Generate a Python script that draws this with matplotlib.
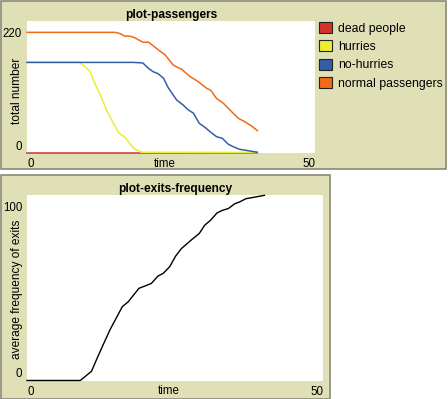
import matplotlib
matplotlib.use("Agg")
import matplotlib.pyplot as plt
from matplotlib.patches import Rectangle, Patch

# ---- data (time, value) ----
dead_t = [0, 40]
dead_v = [0, 0]

hurries_t = [0, 9.2, 10.9, 12.1, 13.0, 13.8, 15.0, 16.0, 17.0, 17.9, 18.75, 19.9, 40]
hurries_v = [165, 165, 149, 119, 99, 78, 53.5, 35, 28, 15.6, 5.9, 0.4, 0]

nohurries_t = [0, 18.5, 20.1, 21.1, 21.9, 22.8, 23.7, 24.5, 25.4, 26.0, 27.1, 28.0,
               28.9, 29.9, 30.9, 31.8, 32.9, 33.9, 34.9, 35.8, 36.9, 38.4, 40.0]
nohurries_v = [165, 165, 164, 154, 148, 144, 136, 119, 105, 96, 87, 78,
               72, 53.5, 46, 38, 29, 26, 15.6, 10.6, 5.9, 3.3, 0.4]

normal_t = [0, 15.3, 16.1, 17.0, 17.9, 18.75, 20.1, 21.1, 22.8, 24.0, 25.4, 26.9,
            28.3, 29.7, 31.2, 31.9, 32.9, 34.1, 35.5, 36.7, 37.8, 39.0, 40.0]
normal_v = [220, 220, 218, 213, 213, 210, 202, 202, 188, 178.5, 160, 152,
            139, 130, 117.5, 114, 99, 90, 75, 62.6, 56.4, 48.5, 40]

series_names = ["dead people", "hurries", "no-hurries", "normal passengers"]
series_colors = ["#d7322a", "#eded31", "#345da9", "#f16a15"]

exits_t = [0, 9.0, 10.9, 12.0, 14.0, 16.1, 17.1, 18.9, 21.0, 22.1, 23.0, 24.1, 25.1,
           26.1, 27.9, 29.1, 30.0, 31.0, 32.1, 33.0, 34.0, 35.1, 35.9, 37.0, 38.5, 40.1]
exits_v = [0, 0, 5.3, 14, 29, 42.4, 45.2, 52.9, 55.7, 59.9, 61.5, 65.3, 71.4,
           75.8, 81.1, 84.4, 89.1, 92, 96.2, 97.7, 98.7, 101.5, 102.5, 104.4, 105.3, 106.3]

BG = "#e0e0b6"
W, H = 448, 399
FS = 8.3

plt.rcParams["font.family"] = ["Liberation Sans", "DejaVu Sans"]
fig = plt.figure(figsize=(W / 100, H / 100), dpi=100, facecolor="white")


def px_rect(x0, y0, x1, y1):
    # widget background, pixel coords from the top-left
    fig.add_artist(Rectangle((x0 / W, 1 - y1 / H), (x1 - x0) / W, (y1 - y0) / H,
                             transform=fig.transFigure, facecolor=BG,
                             edgecolor="#8a8a78", lw=1.2, zorder=0))


def px_axes(x0, y0, x1, y1):
    return fig.add_axes([x0 / W, 1 - y1 / H, (x1 - x0) / W, (y1 - y0) / H])


def style(ax, title, ylabel, ylim, yticks, lx, ly):
    ax.set_facecolor("white")
    for s in ax.spines.values():
        s.set_visible(False)
    ax.set_xlim(0, 50)
    ax.set_ylim(*ylim)
    ax.set_xticks([0, 50], ["0", "50"])
    ax.set_yticks(yticks, [str(v) for v in yticks])
    ax.tick_params(length=0, labelsize=FS, pad=3.5)
    xl = ax.get_xticklabels()
    xl[0].set_ha("left")
    xl[1].set_ha("right")
    ax.get_yticklabels()[0].set_va("bottom")
    ax.set_title(title, fontsize=8.6, fontweight="bold", pad=2)
    ax.set_xlabel("time", fontsize=FS)
    ax.xaxis.set_label_coords(lx, ly)
    ax.set_ylabel(ylabel, fontsize=FS + 0.3)


# panels
px_rect(0.5, 0.5, 446, 169)
px_rect(0.5, 174.5, 330, 398.5)

# top plot
ax1 = px_axes(27, 21, 315, 153)
for t, v, c in zip([dead_t, hurries_t, nohurries_t, normal_t],
                   [dead_v, hurries_v, nohurries_v, normal_v], series_colors):
    ax1.plot(t, v, color=c, lw=1.1, clip_on=False)
style(ax1, "plot-passengers", "total number", (-0.9, 240.8), [0, 220], 0.479, -0.035)
ax1.yaxis.set_label_coords(-0.014, 0.47)

handles = [Patch(facecolor=c, edgecolor="#222222", lw=0.8) for c in series_colors]
fig.legend(handles, series_names, loc="upper left",
           bbox_to_anchor=(319 / W, 1 - 22 / H), frameon=False, fontsize=FS + 0.5,
           handlelength=1.1, handleheight=1.0, handletextpad=0.45,
           labelspacing=0.47, borderpad=0, borderaxespad=0)

# bottom plot
ax2 = px_axes(27, 195, 323, 381)
ax2.plot(exits_t, exits_v, color="black", lw=1.0, clip_on=False)
style(ax2, "plot-exits-frequency", "average frequency of exits", (-0.3, 106.5),
      [0, 100], 0.48, -0.022)
ax2.yaxis.set_label_coords(-0.0135, 0.495)

fig.savefig("out.png", dpi=100, facecolor="white")
